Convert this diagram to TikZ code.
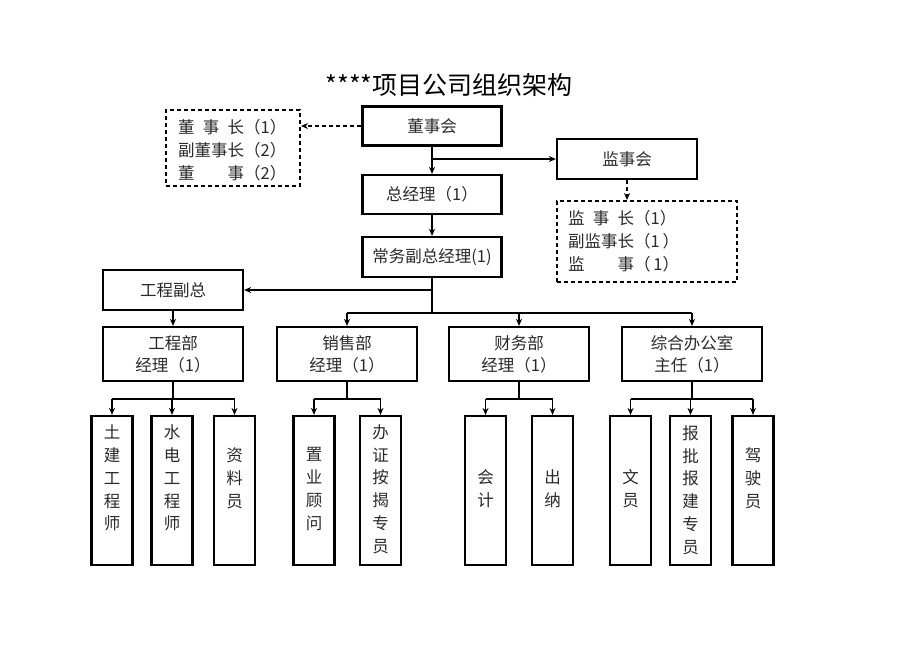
\documentclass[tikz,border=0pt]{standalone}
\usepackage{fontspec}
\setmainfont{Noto Sans CJK SC}
\usetikzlibrary{arrows.meta}
\definecolor{txt}{HTML}{2A2A2A}
\begin{document}
\begin{tikzpicture}[x=1pt,y=-1pt,
  bx/.style={draw=black, line width=2.2pt, inner sep=0pt, align=center, text=txt,
             font=\fontsize{16.5}{22}\selectfont},
  wide/.style={bx, minimum width=139pt, minimum height=39pt},
  dept/.style={bx, minimum width=140pt, minimum height=54pt},
  tall/.style={bx, minimum width=41pt, minimum height=149pt},
  vt/.style={inner sep=0pt, align=center, text=txt, font=\fontsize{16.5}{22.8}\selectfont},
  lt/.style={inner sep=0pt, align=left, text=txt, font=\fontsize{16.5}{23}\selectfont},
  dbox/.style={draw=black, line width=2pt, dash pattern=on 4pt off 3pt, inner sep=0pt},
  ln/.style={draw=black, line width=1.5pt},
  arr/.style={ln, -{Stealth[length=7pt,width=6pt]}},
  darr/.style={arr, dash pattern=on 4pt off 3pt}
]
\useasboundingbox (0,0) rectangle (920,651);
\fill[white] (0,0) rectangle (920,651);

\node[inner sep=0pt, text=black, font=\fontsize{25}{30}\selectfont] (title) at (449,85) {****项目公司组织架构};

% top level
\node[wide] (dsh) at (432,126) {董事会};
\node[wide] (zjl) at (432,194.5) {总经理（1）};
\node[wide, minimum height=40pt] (cw) at (432,257) {常务副总经理(1)};
\node[wide, minimum width=140pt, minimum height=40pt] (jsh) at (627,159) {监事会};
\node[wide, minimum width=140pt, minimum height=40pt] (gf) at (173,290) {工程副总};

% dashed boxes
\node[dbox, minimum width=134pt, minimum height=76pt] (dd) at (233,148) {};
\node[lt, anchor=west] (ddt) at (178,150)
  {\makebox[4em][l]{董\hfill 事\hfill 长}（1）\\
   副董事长（2）\\
   \makebox[4em][l]{董\hfill 事}（2）};
\node[dbox, minimum width=180pt, minimum height=81pt] (jd) at (647,241.5) {};
\node[lt, anchor=west] (jdt) at (568,241)
  {\makebox[4em][l]{监\hfill 事\hfill 长}（1）\\
   副监事长（1\,）\\
   \makebox[4em][l]{监\hfill 事}（\,1）};

% departments
\node[dept] (gcb) at (173,354) {工程部\\经理（1）};
\node[dept] (xs)  at (347,354) {销售部\\经理（1）};
\node[dept] (cwb) at (519,354) {财务部\\经理（1）};
\node[dept] (zh)  at (692,354) {综合办公室\\主任（1）};

% staff boxes
\node[tall] (c11) at (112,490.5) {};
\node[tall] (c12) at (172,490.5) {};
\node[tall] (c13) at (234.5,490.5) {};
\node[tall] (c21) at (314,490.5) {};
\node[tall] (c22) at (380.5,490.5) {};
\node[tall] (c31) at (485.5,490.5) {};
\node[tall] (c32) at (552.5,490.5) {};
\node[tall] (c41) at (630.5,490.5) {};
\node[tall] (c42) at (690.5,490.5) {};
\node[tall] (c43) at (753,490.5) {};

\node[vt] (t11) at (112,478) {土\\建\\工\\程\\师};
\node[vt] (t12) at (172,478) {水\\电\\工\\程\\师};
\node[vt] (t13) at (234.5,478) {资\\料\\员};
\node[vt] (t21) at (314,489) {置\\业\\顾\\问};
\node[vt] (t22) at (380.5,489) {办\\证\\按\\揭\\专\\员};
\node[vt] (t31) at (485.5,489) {会\\计};
\node[vt] (t32) at (552.5,489) {出\\纳};
\node[vt] (t41) at (630.5,489) {文\\员};
\node[vt] (t42) at (690.5,490) {报\\批\\报\\建\\专\\员};
\node[vt] (t43) at (753,478) {驾\\驶\\员};

% connectors, upper part
\draw[darr] (dsh.west) -- (dsh.west -| dd.east);
\draw[arr] (dsh.south) -- (zjl.north);
\draw[arr] (dsh.south |- jsh.west) -- (jsh.west);
\draw[darr] (jsh.south) -- (jsh.south |- jd.north);
\draw[arr] (zjl.south) -- (cw.north);
\draw[ln] (cw.south) -- ++(0,35) coordinate (bus);
\draw[arr] (cw.south |- gf.east) -- (gf.east);
\draw[arr] (gf.south) -- (gcb.north);
\draw[ln] (xs.north |- bus) -- (zh.north |- bus);
\draw[arr] (xs.north |- bus) -- (xs.north);
\draw[arr] (cwb.north |- bus) -- (cwb.north);
\draw[arr] (zh.north |- bus) -- (zh.north);

% connectors, departments to staff
\draw[ln] (gcb.south) -- ++(0,17) coordinate (g1);
\draw[ln] (c11.north |- g1) -- (c13.north |- g1);
\draw[arr] (c11.north |- g1) -- (c11.north);
\draw[arr] (c12.north |- g1) -- (c12.north);
\draw[arr] (c13.north |- g1) -- (c13.north);

\draw[ln] (xs.south) -- ++(0,17) coordinate (g2);
\draw[ln] (c21.north |- g2) -- (c22.north |- g2);
\draw[arr] (c21.north |- g2) -- (c21.north);
\draw[arr] (c22.north |- g2) -- (c22.north);

\draw[ln] (cwb.south) -- ++(0,17) coordinate (g3);
\draw[ln] (c31.north |- g3) -- (c32.north |- g3);
\draw[arr] (c31.north |- g3) -- (c31.north);
\draw[arr] (c32.north |- g3) -- (c32.north);

\draw[ln] (zh.south) -- ++(0,17) coordinate (g4);
\draw[ln] (c41.north |- g4) -- (c43.north |- g4);
\draw[arr] (c41.north |- g4) -- (c41.north);
\draw[arr] (c42.north |- g4) -- (c42.north);
\draw[arr] (c43.north |- g4) -- (c43.north);
\end{tikzpicture}
\end{document}
